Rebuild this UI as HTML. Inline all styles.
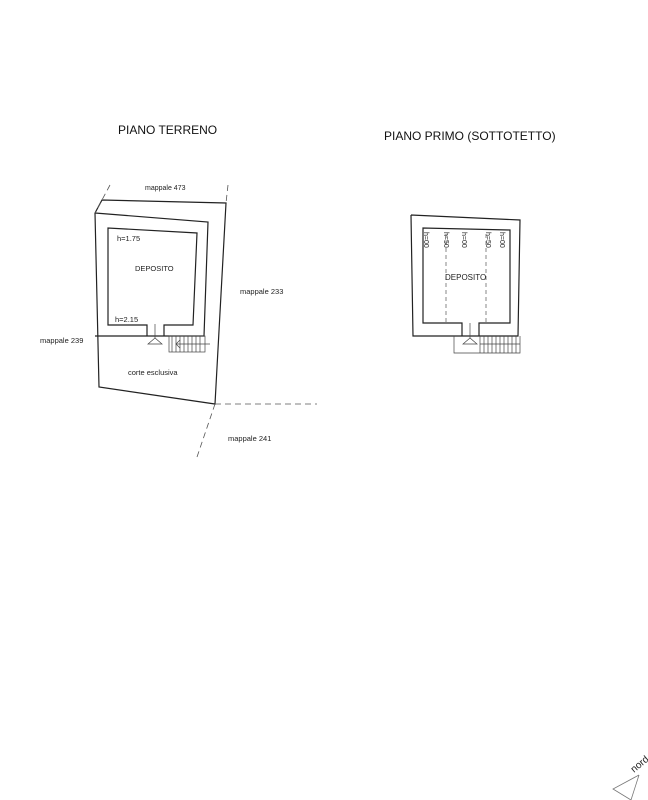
<!DOCTYPE html>
<html><head><meta charset="utf-8"><style>
html,body{margin:0;padding:0;background:#fff;}
svg{display:block;font-family:"Liberation Sans",Arial,sans-serif;}
</style></head><body>
<svg width="648" height="800" viewBox="0 0 648 800" xmlns="http://www.w3.org/2000/svg">
<rect width="648" height="800" fill="#fff"/>
<text x="118" y="134" font-size="12" fill="#111">PIANO TERRENO</text>
<text x="384" y="140" font-size="12" fill="#111">PIANO PRIMO (SOTTOTETTO)</text>

<!-- Left plan -->
<g fill="none" stroke="#222" stroke-width="1.2">
<polyline points="95,213 102,200 226,203 215,404 99,387 95,213"/>
<polyline points="95,213 208,222 204,336 95,336"/>
<polyline points="147,336 147,325 108,325 108,228 197,233 193,325 164,325 164,336"/>
</g>
<g fill="none" stroke="#555" stroke-width="0.8" stroke-dasharray="6,4">
<line x1="110" y1="185" x2="95" y2="213"/>
<line x1="228" y1="185" x2="226" y2="203"/>
<line x1="215" y1="404" x2="317" y2="404"/>
<line x1="215" y1="404" x2="197" y2="457"/>
</g>
<g fill="none" stroke="#444" stroke-width="0.7">
<line x1="155" y1="324" x2="155" y2="338"/>
<polygon points="155,338 148,344 162,344"/>
<rect x="169" y="336" width="36" height="16"/>
<line x1="172" y1="336" x2="172" y2="352"/><line x1="176" y1="336" x2="176" y2="352"/>
<line x1="180" y1="336" x2="180" y2="352"/><line x1="184" y1="336" x2="184" y2="352"/>
<line x1="188" y1="336" x2="188" y2="352"/><line x1="192" y1="336" x2="192" y2="352"/>
<line x1="196" y1="336" x2="196" y2="352"/><line x1="200" y1="336" x2="200" y2="352"/>
<line x1="176" y1="344" x2="210" y2="344"/>
<polyline points="180,340 176,344 180,348"/>
</g>
<g font-size="7.5" fill="#222">
<text x="145" y="190" font-size="7">mappale 473</text>
<text x="240" y="294">mappale 233</text>
<text x="40" y="343">mappale 239</text>
<text x="128" y="375">corte esclusiva</text>
<text x="228" y="441">mappale 241</text>
<text x="117" y="241">h=1.75</text>
<text x="135" y="271">DEPOSITO</text>
<text x="115" y="322">h=2.15</text>
</g>

<!-- Right plan -->
<g fill="none" stroke="#222" stroke-width="1.2">
<polyline points="411,215 520,220 518,336 413,336 411,215"/>
<polyline points="462,336 462,323 423,323 423,228 510,230 510,323 479,323 479,336"/>
</g>
<g fill="none" stroke="#555" stroke-width="0.7" stroke-dasharray="4,3">
<line x1="446" y1="234" x2="446" y2="323"/>
<line x1="486" y1="234" x2="486" y2="323"/>
</g>
<g fill="none" stroke="#444" stroke-width="0.7">
<line x1="470" y1="323" x2="470" y2="338"/>
<polygon points="470,338 463,344 477,344"/>
<polyline points="454,336 454,353 520,353 520,336"/>
<line x1="480" y1="336" x2="480" y2="353"/><line x1="484" y1="336" x2="484" y2="353"/>
<line x1="488" y1="336" x2="488" y2="353"/><line x1="492" y1="336" x2="492" y2="353"/>
<line x1="496" y1="336" x2="496" y2="353"/><line x1="500" y1="336" x2="500" y2="353"/>
<line x1="504" y1="336" x2="504" y2="353"/><line x1="508" y1="336" x2="508" y2="353"/>
<line x1="512" y1="336" x2="512" y2="353"/><line x1="516" y1="336" x2="516" y2="353"/>
<line x1="480" y1="344" x2="520" y2="344"/>
</g>
<g font-size="7" fill="#222">
<text transform="translate(424,232) rotate(90)">h=00</text>
<text transform="translate(444,232) rotate(90)">h=50</text>
<text transform="translate(462,232) rotate(90)">h=00</text>
<text transform="translate(486,232) rotate(90)">h=50</text>
<text transform="translate(500,232) rotate(90)">h=00</text>
<text x="445" y="280" font-size="8">DEPOSITO</text>
</g>

<!-- North arrow -->
<g fill="none" stroke="#777" stroke-width="0.8">
<polyline points="639,775 613,789 631,800"/>
<line x1="639" y1="775" x2="631" y2="800"/>
</g>
<text transform="translate(634,773) rotate(-40)" font-size="10" fill="#222">nord</text>
</svg>
</body></html>
